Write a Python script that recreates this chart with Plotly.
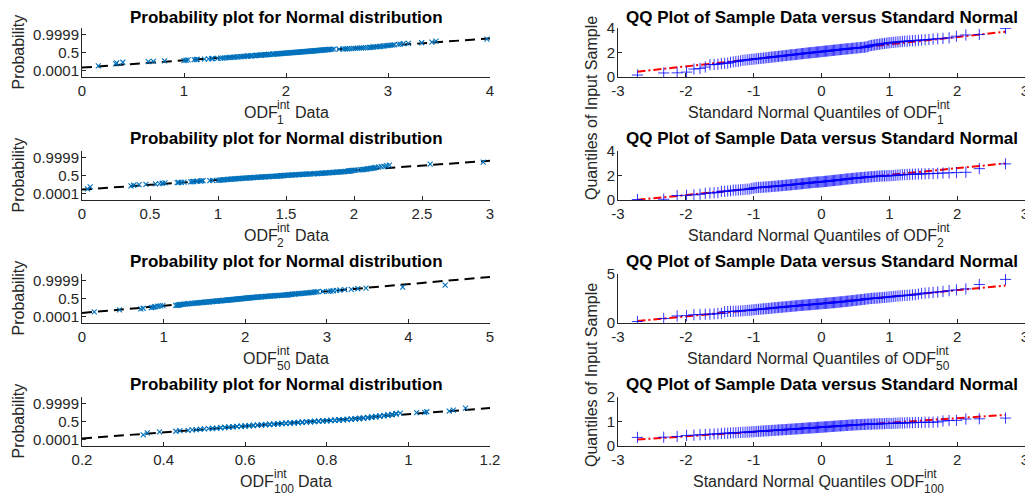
import plotly.graph_objects as go
from statistics import NormalDist
import numpy as np

# ---------------- data (sorted sample values) ----------------
odf1 = [0.16, 0.33, 0.34, 0.40, 0.65, 0.70, 0.81, 1.00, 1.02, 1.04,
        1.10, 1.12, 1.13, 1.20, 1.24, 1.27, 1.28, 1.33, 1.36, 1.38,
        1.40, 1.42, 1.44, 1.45, 1.47, 1.49, 1.50, 1.52, 1.53, 1.55,
        1.56, 1.58, 1.59, 1.61, 1.62, 1.63, 1.65, 1.66, 1.67, 1.69,
        1.70, 1.71, 1.72, 1.74, 1.75, 1.76, 1.77, 1.79, 1.80, 1.81,
        1.82, 1.83, 1.83, 1.85, 1.87, 1.88, 1.88, 1.90, 1.91, 1.92,
        1.93, 1.94, 1.95, 1.96, 1.97, 1.98, 1.99, 2.00, 2.01, 2.02,
        2.03, 2.04, 2.05, 2.06, 2.07, 2.08, 2.09, 2.10, 2.11, 2.12,
        2.13, 2.14, 2.15, 2.16, 2.17, 2.18, 2.19, 2.20, 2.21, 2.22,
        2.23, 2.24, 2.25, 2.26, 2.27, 2.28, 2.29, 2.30, 2.31, 2.32,
        2.33, 2.34, 2.35, 2.36, 2.37, 2.38, 2.39, 2.40, 2.41, 2.42,
        2.43, 2.45, 2.47, 2.52, 2.56, 2.58, 2.60, 2.62, 2.64, 2.66,
        2.68, 2.70, 2.72, 2.74, 2.76, 2.78, 2.80, 2.82, 2.83, 2.85,
        2.86, 2.88, 2.90, 2.92, 2.93, 2.95, 2.96, 2.98, 3.00, 3.02,
        3.04, 3.06, 3.10, 3.12, 3.15, 3.20, 3.33, 3.43, 3.47, 3.97]

odf2 = [0.04, 0.06, 0.36, 0.38, 0.42, 0.47, 0.54, 0.57, 0.59, 0.61,
        0.70, 0.71, 0.73, 0.75, 0.80, 0.81, 0.82, 0.84, 0.85, 0.87,
        0.88, 0.89, 0.94, 0.96, 1.00, 1.01, 1.02, 1.03, 1.04, 1.05,
        1.06, 1.07, 1.08, 1.09, 1.10, 1.11, 1.12, 1.13, 1.14, 1.15,
        1.16, 1.17, 1.18, 1.19, 1.20, 1.21, 1.22, 1.23, 1.24, 1.25,
        1.26, 1.27, 1.28, 1.29, 1.30, 1.31, 1.32, 1.33, 1.34, 1.35,
        1.36, 1.37, 1.38, 1.39, 1.40, 1.41, 1.42, 1.43, 1.44, 1.45,
        1.46, 1.46, 1.47, 1.47, 1.48, 1.49, 1.50, 1.51, 1.52, 1.53,
        1.54, 1.55, 1.56, 1.57, 1.58, 1.59, 1.60, 1.61, 1.62, 1.63,
        1.64, 1.65, 1.66, 1.67, 1.68, 1.70, 1.71, 1.72, 1.73, 1.74,
        1.75, 1.76, 1.77, 1.78, 1.79, 1.80, 1.81, 1.82, 1.83, 1.84,
        1.85, 1.86, 1.87, 1.88, 1.89, 1.90, 1.91, 1.92, 1.93, 1.94,
        1.95, 1.96, 1.96, 1.97, 1.97, 1.98, 1.98, 1.99, 2.00, 2.01,
        2.03, 2.05, 2.06, 2.07, 2.08, 2.09, 2.10, 2.11, 2.12, 2.13,
        2.14, 2.15, 2.16, 2.18, 2.20, 2.22, 2.24, 2.26, 2.56, 2.95]

odf50 = [0.15, 0.46, 0.72, 0.75, 0.85, 0.87, 0.89, 0.90, 0.93, 0.96,
         0.99, 1.15, 1.17, 1.18, 1.19, 1.20, 1.21, 1.23, 1.25, 1.27,
         1.29, 1.30, 1.32, 1.34, 1.36, 1.38, 1.40, 1.41, 1.43, 1.44,
         1.46, 1.47, 1.49, 1.50, 1.52, 1.53, 1.55, 1.56, 1.57, 1.59,
         1.60, 1.61, 1.62, 1.64, 1.65, 1.66, 1.67, 1.69, 1.70, 1.71,
         1.72, 1.73, 1.74, 1.76, 1.77, 1.78, 1.79, 1.80, 1.81, 1.82,
         1.83, 1.84, 1.85, 1.86, 1.87, 1.88, 1.89, 1.90, 1.91, 1.92,
         1.93, 1.94, 1.95, 1.96, 1.97, 1.98, 1.99, 2.00, 2.01, 2.02,
         2.03, 2.04, 2.05, 2.06, 2.07, 2.08, 2.09, 2.10, 2.11, 2.13,
         2.14, 2.15, 2.16, 2.17, 2.19, 2.20, 2.21, 2.23, 2.24, 2.25,
         2.27, 2.28, 2.30, 2.31, 2.33, 2.34, 2.36, 2.37, 2.39, 2.40,
         2.42, 2.44, 2.46, 2.48, 2.50, 2.51, 2.52, 2.53, 2.54, 2.55,
         2.57, 2.58, 2.60, 2.61, 2.63, 2.65, 2.67, 2.69, 2.71, 2.73,
         2.75, 2.77, 2.79, 2.81, 2.83, 2.85, 2.87, 2.89, 2.95, 3.02,
         3.05, 3.08, 3.12, 3.16, 3.22, 3.30, 3.38, 3.48, 3.93, 4.45]

odf100 = [0.35, 0.36, 0.39, 0.43, 0.44, 0.46, 0.47, 0.48, 0.49, 0.50,
          0.51, 0.52, 0.52, 0.53, 0.54, 0.54, 0.55, 0.55, 0.56, 0.56,
          0.57, 0.57, 0.58, 0.58, 0.59, 0.59, 0.60, 0.60, 0.61, 0.61,
          0.62, 0.62, 0.62, 0.63, 0.63, 0.64, 0.64, 0.64, 0.65, 0.65,
          0.66, 0.66, 0.66, 0.67, 0.67, 0.67, 0.68, 0.68, 0.68, 0.69,
          0.69, 0.69, 0.70, 0.70, 0.70, 0.71, 0.71, 0.71, 0.72, 0.72,
          0.72, 0.73, 0.73, 0.73, 0.74, 0.74, 0.74, 0.74, 0.75, 0.75,
          0.75, 0.76, 0.76, 0.76, 0.77, 0.77, 0.77, 0.78, 0.78, 0.78,
          0.79, 0.79, 0.79, 0.80, 0.80, 0.80, 0.81, 0.81, 0.81, 0.82,
          0.82, 0.82, 0.83, 0.83, 0.83, 0.84, 0.84, 0.84, 0.85, 0.85,
          0.85, 0.86, 0.86, 0.86, 0.87, 0.87, 0.87, 0.87, 0.88, 0.88,
          0.88, 0.88, 0.89, 0.89, 0.89, 0.89, 0.90, 0.90, 0.90, 0.90,
          0.91, 0.91, 0.91, 0.91, 0.92, 0.92, 0.92, 0.92, 0.93, 0.93,
          0.93, 0.94, 0.94, 0.94, 0.95, 0.95, 0.95, 0.96, 0.96, 0.96,
          0.97, 0.97, 0.97, 0.98, 1.02, 1.04, 1.045, 1.10, 1.11, 1.14]

datasets = [odf1, odf2, odf50, odf100]
subscripts = ["1", "2", "50", "100"]

left_title = "Probability plot for Normal distribution"
right_title = "QQ Plot of Sample Data versus Standard Normal"
left_xranges = [[0, 4], [0, 3], [0, 5], [0.2, 1.2]]
left_xticks = [[0, 1, 2, 3, 4], [0, 0.5, 1, 1.5, 2, 2.5, 3], [0, 1, 2, 3, 4, 5],
               [0.2, 0.4, 0.6, 0.8, 1, 1.2]]
left_xticklabels = [["0", "1", "2", "3", "4"], ["0", "0.5", "1", "1.5", "2", "2.5", "3"],
                    ["0", "1", "2", "3", "4", "5"], ["0.2", "0.4", "0.6", "0.8", "1", "1.2"]]
prob_ticks = [0.0001, 0.5, 0.9999]
prob_ticklabels = ["0.0001", "0.5", "0.9999"]
prob_zrange = [-5.0, 5.0]
right_xticks = [-3, -2, -1, 0, 1, 2, 3]
right_xticklabels = ["-3", "-2", "-1", "0", "1", "2", "3"]
right_yranges = [[0, 4], [0, 4], [0, 5], [0, 2]]
right_yticks = [[0, 2, 4], [0, 2, 4], [0, 5], [0, 1, 2]]
right_xlabel_prefix = ["Standard Normal Quantiles of ODF", "Standard Normal Quantiles of ODF",
                       "Standard Normal Quantiles of ODF", "Standard Normal Quantiles ODF"]
left_ylabel = "Probability"
right_ylabel = "Quantiles of Input Sample"

# ---------------- layout (pixels, in screen coordinates) ----------------
OFF = 8                      # page body margin
W, H = 1033 - OFF, 499 - OFF
LX = (82, 490)
RX = (618, 1025)
ROW_TOP = [28, 151, 274, 397]
ROW_H = 49
FONT = "Liberation Sans, Arial, Helvetica, sans-serif"
TICK_SIZE = 15
LBL_SIZE = 16
SUP_SIZE = 12
TITLE_SIZE = 17
AX_COLOR = "#262626"

nd = NormalDist()

fig = go.Figure()


def px_x(x):
    return (x - OFF) / W


def px_y(y):
    return 1 - (y - OFF) / H


ARIAL = {' ': 0.278, 'O': 0.778, 'D': 0.722, 'F': 0.611, 'a': 0.556, 't': 0.278, 'i': 0.222,
         'n': 0.556, 'S': 0.667, 'd': 0.556, 'r': 0.333, 'N': 0.722, 'o': 0.556, 'm': 0.833,
         'l': 0.222, 'Q': 0.778, 'u': 0.556, 'e': 0.556, 's': 0.5, 'f': 0.278}


def tw(s, size):
    return sum(ARIAL.get(c, 0.556) for c in s) * size


def text_at(x, baseline, text, size, xanchor="left", bold=False, color=AX_COLOR):
    fig.add_annotation(xref="paper", yref="paper", x=px_x(x),
                       y=px_y(baseline - 0.905 * size), xanchor=xanchor, yanchor="top",
                       text=("<b>%s</b>" % text) if bold else text, showarrow=False,
                       borderpad=0, borderwidth=0,
                       font=dict(family=FONT, size=size, color=color))


def composite_xlabel(cx, baseline, prefix, sub, suffix):
    w_pre = tw(prefix, LBL_SIZE)
    w_stack = max(tw("int", SUP_SIZE), tw(sub, SUP_SIZE))
    w_suf = tw(" " + suffix, LBL_SIZE) if suffix else 0
    x0 = cx - (w_pre + w_stack + w_suf) / 2
    text_at(x0, baseline, prefix, LBL_SIZE)
    text_at(x0 + w_pre, baseline - 9, "int", SUP_SIZE)
    text_at(x0 + w_pre, baseline + 6, sub, SUP_SIZE)
    if suffix:
        text_at(x0 + w_pre + w_stack + tw(" ", LBL_SIZE), baseline, suffix, LBL_SIZE)


axis_common = dict(showline=True, linecolor=AX_COLOR, linewidth=1, ticks="inside", ticklen=4,
                   tickwidth=1, tickcolor=AX_COLOR, showgrid=False, zeroline=False,
                   mirror=False, fixedrange=True, automargin=False,
                   tickfont=dict(family=FONT, size=TICK_SIZE, color=AX_COLOR))

layout_axes = {}
for r in range(4):
    data = sorted(datasets[r])
    n = len(data)
    zq = [nd.inv_cdf((i + 0.5) / n) for i in range(n)]
    top = ROW_TOP[r]
    bot = top + ROW_H
    title_base = top - 6.5 + (2 if r == 0 else 0)
    ydom = [px_y(bot), px_y(top)]
    for c in range(2):
        idx = 2 * r + c + 1
        xa = "xaxis" if idx == 1 else "xaxis%d" % idx
        ya = "yaxis" if idx == 1 else "yaxis%d" % idx
        xr = "x" if idx == 1 else "x%d" % idx
        yr = "y" if idx == 1 else "y%d" % idx
        X = LX if c == 0 else RX
        xdom = [px_x(X[0]), px_x(X[1])]
        cx = (X[0] + X[1]) / 2
        if c == 0:
            layout_axes[xa] = dict(axis_common, domain=xdom, anchor=yr, range=left_xranges[r],
                                   tickmode="array", tickvals=left_xticks[r],
                                   ticktext=left_xticklabels[r], ticklabelstandoff=0)
            layout_axes[ya] = dict(axis_common, domain=ydom, anchor=xr, range=prob_zrange,
                                   tickmode="array",
                                   tickvals=[nd.inv_cdf(p) for p in prob_ticks],
                                   ticktext=prob_ticklabels, ticklabelstandoff=-1)
            mu = float(np.mean(data))
            sd = float(np.std(data, ddof=1))
            lx = left_xranges[r]
            fig.add_trace(go.Scatter(x=lx, y=[(v - mu) / sd for v in lx], xaxis=xr, yaxis=yr,
                                     mode="lines", line=dict(color="black", width=2,
                                                             dash="10px,6px"),
                                     showlegend=False, hoverinfo="skip"))
            fig.add_trace(go.Scatter(x=data, y=zq, xaxis=xr, yaxis=yr, mode="markers",
                                     marker=dict(symbol="x-thin", size=5,
                                                 line=dict(color="#0072BD", width=1.1)),
                                     showlegend=False, hoverinfo="skip"))
            text_at(cx, title_base, left_title, TITLE_SIZE, xanchor="center", bold=True,
                    color="black")
            composite_xlabel(cx, bot + 41, "ODF", subscripts[r], "Data")
            fig.add_annotation(xref="paper", yref="paper", x=px_x(18),
                               y=px_y((top + bot) / 2), xanchor="center", yanchor="middle",
                               text=left_ylabel, textangle=-90, showarrow=False,
                               borderpad=0, font=dict(family=FONT, size=LBL_SIZE,
                                                      color=AX_COLOR))
        else:
            layout_axes[xa] = dict(axis_common, domain=xdom, anchor=yr, range=[-3, 3],
                                   tickmode="array", tickvals=right_xticks,
                                   ticktext=right_xticklabels, ticklabelstandoff=0)
            layout_axes[ya] = dict(axis_common, domain=ydom, anchor=xr, range=right_yranges[r],
                                   tickmode="array", tickvals=right_yticks[r],
                                   ticktext=[str(v) for v in right_yticks[r]],
                                   ticklabelstandoff=-1)
            q1, q3 = np.percentile(data, [25, 75], method="hazen")
            z1, z3 = nd.inv_cdf(0.25), nd.inv_cdf(0.75)
            slope = (q3 - q1) / (z3 - z1)
            icpt = q1 - slope * z1
            ex = [zq[0], zq[-1]]
            fig.add_trace(go.Scatter(x=ex, y=[icpt + slope * v for v in ex], xaxis=xr,
                                     yaxis=yr, mode="lines",
                                     line=dict(color="#FF0000", width=2,
                                               dash="8px,3px,2px,3px"),
                                     showlegend=False, hoverinfo="skip"))
            fig.add_trace(go.Scatter(x=zq, y=data, xaxis=xr, yaxis=yr, mode="markers",
                                     marker=dict(symbol="cross-thin", size=8,
                                                 line=dict(color="#0000FF", width=0.8)),
                                     showlegend=False, hoverinfo="skip"))
            text_at(cx, title_base, right_title, TITLE_SIZE, xanchor="center", bold=True,
                    color="black")
            composite_xlabel(cx - 3, bot + 41, right_xlabel_prefix[r], subscripts[r], "")

# two visible right-column y labels (the overlapping MATLAB labels)
for yc in [108, 375]:
    fig.add_annotation(xref="paper", yref="paper", x=px_x(591), y=px_y(yc),
                       xanchor="center", yanchor="middle", text=right_ylabel, textangle=-90,
                       showarrow=False, borderpad=0,
                       font=dict(family=FONT, size=LBL_SIZE, color=AX_COLOR))

fig.update_layout(width=W, height=H, autosize=False,
                  margin=dict(l=0, r=0, t=0, b=0, pad=0, autoexpand=False),
                  paper_bgcolor="white", plot_bgcolor="white", showlegend=False,
                  **layout_axes)

fig.write_html("out.html")
